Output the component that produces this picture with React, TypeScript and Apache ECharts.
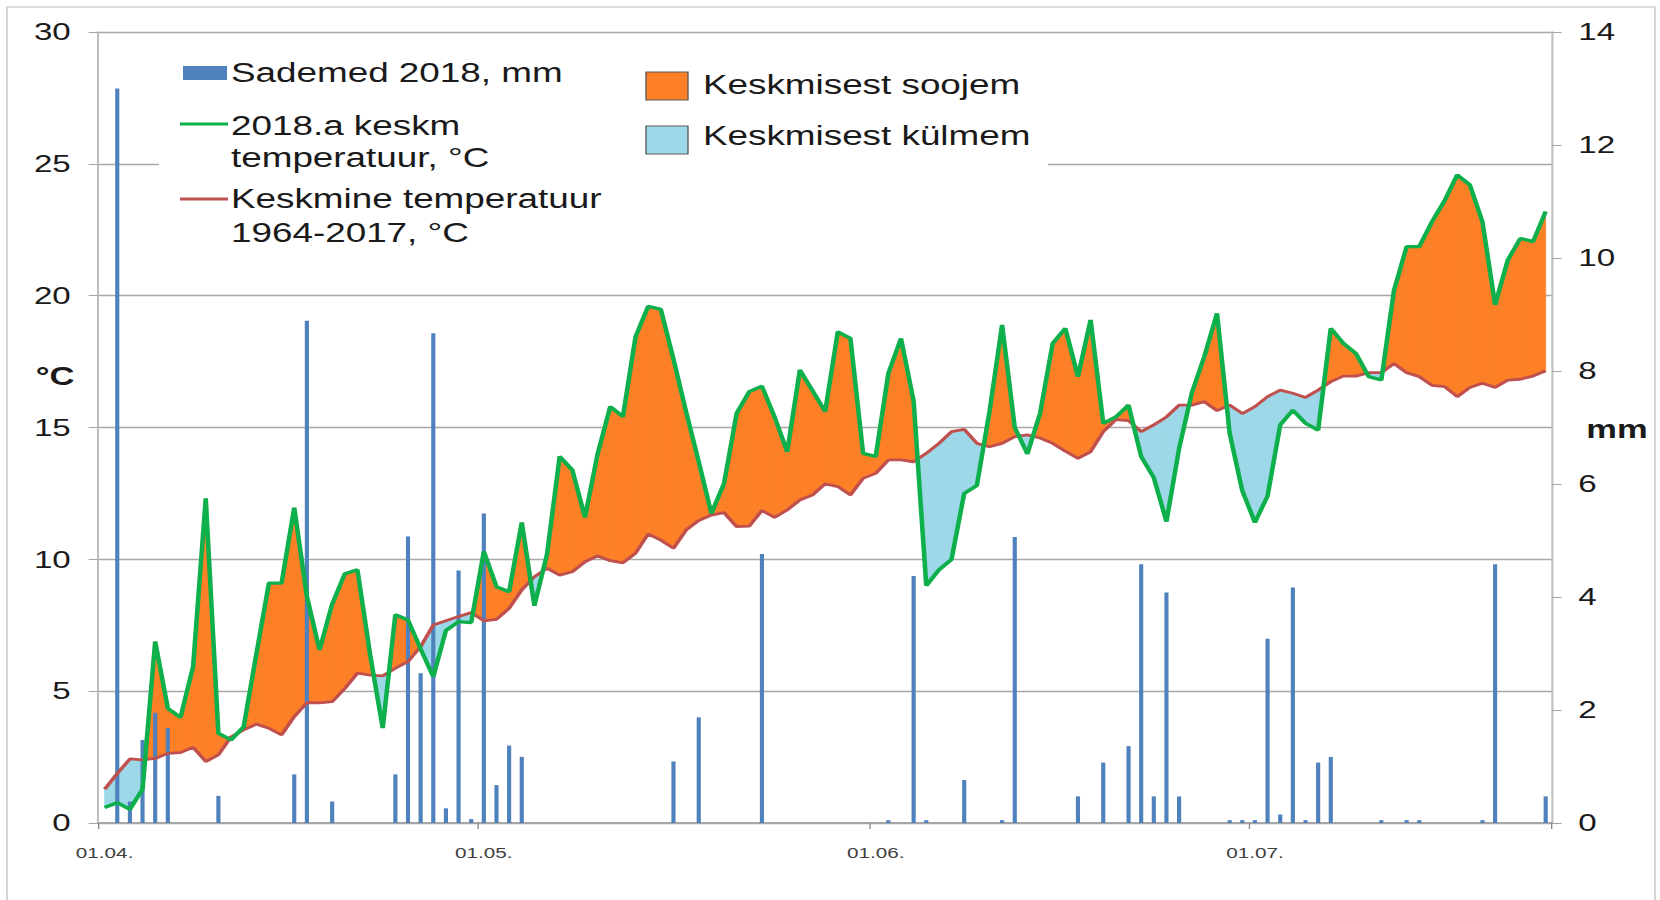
import React, { useEffect, useRef } from "react";
import * as echarts from "echarts";

// ---- data ----
const monthDays: [number, number][] = [[4, 30], [5, 31], [6, 30], [7, 31]];
const DAY_COUNT = 115;

const temp2018 = [
  0.59, 0.77, 0.52, 1.28, 6.88, 4.35, 4.0, 5.93, 12.31, 3.4,
  3.15, 3.65, 6.4, 9.1, 9.1, 11.96, 8.6, 6.56, 8.3, 9.45,
  9.6, 6.4, 3.6, 7.9, 7.7, 6.6, 5.55, 7.3, 7.64, 7.6,
  10.3, 8.96, 8.77, 11.4, 8.24, 10.2, 13.9, 13.39, 11.59, 14.0,
  15.79, 15.41, 18.44, 19.6, 19.48, 17.6, 15.6, 13.7, 11.74, 12.88,
  15.54, 16.36, 16.57, 15.4, 14.08, 17.18, 16.4, 15.6, 18.63, 18.38,
  14.02, 13.9, 17.05, 18.38, 16.0, 9.0, 9.6, 10.0, 12.5, 12.8,
  15.6, 18.89, 15.0, 14.0, 15.54, 18.19, 18.76, 16.93, 19.08, 15.16,
  15.4, 15.85, 13.9, 13.1, 11.43, 14.2, 16.3, 17.7, 19.33, 14.78,
  12.6, 11.4, 12.4, 15.1, 15.66, 15.16, 14.9, 18.76, 18.19, 17.8,
  16.93, 16.8, 20.2, 21.86, 21.86, 22.8, 23.6, 24.58, 24.2, 22.8,
  19.65, 21.35, 22.17, 22.05, 23.19,
];

const tempAvg = [
  1.28, 1.88, 2.43, 2.39, 2.45, 2.64, 2.67, 2.87, 2.33, 2.58,
  3.27, 3.53, 3.75, 3.59, 3.34, 4.03, 4.56, 4.56, 4.6, 5.1,
  5.68, 5.61, 5.58, 5.87, 6.12, 6.69, 7.51, 7.67, 7.83, 7.98,
  7.67, 7.72, 8.14, 8.84, 9.34, 9.66, 9.4, 9.53, 9.91, 10.13,
  9.95, 9.87, 10.23, 10.96, 10.73, 10.42, 11.11, 11.47, 11.68, 11.77,
  11.24, 11.26, 11.85, 11.59, 11.87, 12.25, 12.44, 12.86, 12.76, 12.44,
  13.07, 13.26, 13.77, 13.77, 13.7, 14.02, 14.4, 14.84, 14.93, 14.4,
  14.27, 14.4, 14.65, 14.72, 14.6, 14.4, 14.1, 13.83, 14.08, 14.84,
  15.3, 15.26, 14.84, 15.1, 15.4, 15.85, 15.85, 15.98, 15.64, 15.85,
  15.53, 15.79, 16.17, 16.42, 16.3, 16.14, 16.42, 16.74, 16.95, 16.95,
  17.08, 17.08, 17.43, 17.08, 16.93, 16.6, 16.55, 16.17, 16.52, 16.68,
  16.52, 16.8, 16.83, 16.95, 17.15,
];

const precip = [
  0, 13.0, 0.38, 1.47, 1.95, 1.68, 0, 0, 0, 0.48,
  0, 0, 0, 0, 0, 0.86, 8.89, 0, 0.38, 0,
  0, 0, 0, 0.86, 5.07, 2.65, 8.67, 0.26, 4.47, 0.07,
  5.48, 0.67, 1.37, 1.17, 0, 0, 0, 0, 0, 0,
  0, 0, 0, 0, 0, 1.09, 0, 1.87, 0, 0,
  0, 0, 4.76, 0, 0, 0, 0, 0, 0, 0,
  0, 0, 0.05, 0, 4.37, 0.05, 0, 0, 0.76, 0,
  0, 0.05, 5.06, 0, 0, 0, 0, 0.47, 0, 1.07,
  0, 1.36, 4.58, 0.47, 4.08, 0.47, 0, 0, 0, 0.05,
  0.05, 0.05, 3.26, 0.15, 4.17, 0.05, 1.07, 1.17, 0, 0,
  0, 0.05, 0, 0.05, 0.05, 0, 0, 0, 0, 0.05,
  4.58, 0, 0, 0, 0.47,
];

const seriesNames = {
  precip: "Sademed 2018, mm",
  temp: "2018.a keskm temperatuur, °C",
  avg: "Keskmine temperatuur 1964-2017, °C",
  warm: "Keskmisest soojem",
  cold: "Keskmisest külmem",
};

function buildDates(): string[] {
  const out: string[] = [];
  for (const [m, days] of monthDays) {
    for (let d = 1; d <= days && out.length < DAY_COUNT; d++) {
      out.push(`${String(d).padStart(2, "0")}.${String(m).padStart(2, "0")}.`);
    }
  }
  return out;
}
const dates = buildDates();

// ---- layout ----
const W = 1203;
const H = 900;
const S = 1660 / W; // horizontal stretch of the original picture
const FONT = '"Liberation Sans", Arial, sans-serif';
const WARM = "#FD7F26";
const COLD = "#9CD8E8";
const GREEN = "#0DB04B";
const RED = "#C0504D";
const BLUE = "#4F81BD";
const LEGEND_FONT = 26.7;

export default function App() {
  const ref = useRef<HTMLDivElement>(null);

  useEffect(() => {
    document.body.style.margin = "0";
    document.body.style.overflow = "hidden";
    const chart = echarts.init(ref.current!, undefined, { renderer: "svg" });

    const fillData = [];
    for (let i = 0; i < DAY_COUNT - 1; i++) {
      fillData.push([i, temp2018[i], tempAvg[i], temp2018[i + 1], tempAvg[i + 1]]);
    }

    const isMonthStart = (_: number, v: string) => v.startsWith("01.");

    const txt = (text: string, x: number, y: number, size = LEGEND_FONT, weight = "normal") => ({
      type: "text",
      z: 101,
      style: {
        text,
        x,
        y,
        fill: "#1a1a1a",
        fontSize: size,
        fontWeight: weight,
        fontFamily: FONT,
        align: "left",
        verticalAlign: "middle",
      },
    });

    const lx = 231 / S;
    const option: any = {
      animation: false,
      backgroundColor: "#ffffff",
      grid: { left: 98.3 / S, right: W - 1552 / S, top: 32, bottom: H - 823 },
      xAxis: {
        type: "category",
        data: dates,
        boundaryGap: true,
        axisLine: { lineStyle: { color: "#A6A6A6", width: 2 } },
        axisTick: {
          show: true,
          interval: isMonthStart,
          alignWithLabel: false,
          length: 6,
          lineStyle: { color: "#8c8c8c", width: 1 },
        },
        axisLabel: {
          interval: isMonthStart,
          fontSize: 15,
          color: "#404040",
          fontFamily: FONT,
          margin: 23,
        },
        splitLine: { show: false },
      },
      yAxis: [
        {
          type: "value",
          min: 0,
          max: 30,
          interval: 5,
          axisLine: { show: true, lineStyle: { color: "#BFBFBF", width: 1.5 } },
          axisTick: { show: true, inside: false, length: 7, lineStyle: { color: "#A6A6A6" } },
          axisLabel: { fontSize: 24, color: "#1a1a1a", fontFamily: FONT, margin: 20 },
          splitLine: { show: true, lineStyle: { color: "#A8A8A8", width: 1.3 } },
        },
        {
          type: "value",
          min: 0,
          max: 14,
          interval: 2,
          position: "right",
          axisLine: { show: true, lineStyle: { color: "#BFBFBF", width: 1.5 } },
          axisTick: { show: true, inside: false, length: 7, lineStyle: { color: "#A6A6A6" } },
          axisLabel: { fontSize: 24, color: "#1a1a1a", fontFamily: FONT, margin: 19 },
          splitLine: { show: false },
        },
      ],
      series: [
        {
          name: "fill",
          type: "custom",
          xAxisIndex: 0,
          yAxisIndex: 0,
          z: 1,
          silent: true,
          encode: { x: 0, y: [1, 2, 3, 4] },
          data: fillData,
          renderItem: (_params: any, api: any) => {
            const i = api.value(0);
            const g0 = api.value(1);
            const r0 = api.value(2);
            const g1 = api.value(3);
            const r1 = api.value(4);
            const Ag = api.coord([i, g0]);
            const Ar = api.coord([i, r0]);
            const Bg = api.coord([i + 1, g1]);
            const Br = api.coord([i + 1, r1]);
            const d0 = g0 - r0;
            const d1 = g1 - r1;
            const poly = (pts: number[][], color: string) => ({
              type: "polygon",
              shape: { points: pts },
              style: { fill: color, stroke: color, lineWidth: 0.6 },
            });
            const children: any[] = [];
            if (d0 * d1 >= 0) {
              const c = d0 + d1 >= 0 ? WARM : COLD;
              children.push(poly([Ag, Bg, Br, Ar], c));
            } else {
              const t = d0 / (d0 - d1);
              const C = [Ag[0] + t * (Bg[0] - Ag[0]), Ag[1] + t * (Bg[1] - Ag[1])];
              children.push(poly([Ag, C, Ar], d0 > 0 ? WARM : COLD));
              children.push(poly([C, Bg, Br], d1 > 0 ? WARM : COLD));
            }
            return { type: "group", children };
          },
        },
        {
          name: seriesNames.precip,
          type: "bar",
          xAxisIndex: 0,
          yAxisIndex: 1,
          z: 2,
          barWidth: 3,
          itemStyle: { color: BLUE },
          data: precip,
        },
        {
          name: seriesNames.avg,
          type: "line",
          yAxisIndex: 0,
          z: 3,
          symbol: "none",
          lineStyle: { color: RED, width: 2.8 },
          data: tempAvg,
        },
        {
          name: seriesNames.temp,
          type: "line",
          yAxisIndex: 0,
          z: 4,
          symbol: "none",
          lineStyle: { color: GREEN, width: 3.3 },
          data: temp2018,
        },
      ],
      graphic: [
        {
          type: "rect",
          z: 0,
          silent: true,
          shape: { x: 7 / S, y: 7, width: (1655 - 7) / S, height: 900 },
          style: { fill: "none", stroke: "#D4D4D4", lineWidth: 1.5 },
        },
        {
          type: "rect",
          z: 100,
          shape: { x: 159 / S, y: 40, width: (1048 - 159) / S, height: 222 },
          style: { fill: "#ffffff" },
        },
        {
          type: "rect",
          z: 101,
          shape: { x: 183 / S, y: 66, width: 44 / S, height: 14 },
          style: { fill: BLUE },
        },
        txt("Sademed 2018, mm", lx, 73),
        {
          type: "line",
          z: 101,
          shape: { x1: 180 / S, y1: 124, x2: 228 / S, y2: 124 },
          style: { stroke: GREEN, lineWidth: 3 },
        },
        txt("2018.a keskm", lx, 126),
        txt("temperatuur, °C", lx, 158),
        {
          type: "line",
          z: 101,
          shape: { x1: 180 / S, y1: 199, x2: 228 / S, y2: 199 },
          style: { stroke: RED, lineWidth: 2.8 },
        },
        txt("Keskmine temperatuur", lx, 199),
        txt("1964-2017, °C", lx, 233),
        {
          type: "rect",
          z: 101,
          shape: { x: 646 / S, y: 72, width: 42 / S, height: 28 },
          style: { fill: WARM, stroke: "#5a5a5a", lineWidth: 1 },
        },
        txt(seriesNames.warm, 703 / S, 85),
        {
          type: "rect",
          z: 101,
          shape: { x: 646 / S, y: 126, width: 42 / S, height: 28 },
          style: { fill: COLD, stroke: "#5a5a5a", lineWidth: 1 },
        },
        txt(seriesNames.cold, 703 / S, 136),
        {
          type: "text",
          z: 101,
          style: {
            text: "°C",
            x: 55 / S,
            y: 376,
            fill: "#1a1a1a",
            fontSize: 25,
            fontWeight: "bold",
            fontFamily: FONT,
            align: "center",
            verticalAlign: "middle",
          },
        },
        {
          type: "text",
          z: 101,
          style: {
            text: "mm",
            x: 1617 / S,
            y: 429,
            fill: "#1a1a1a",
            fontSize: 25,
            fontWeight: "bold",
            fontFamily: FONT,
            align: "center",
            verticalAlign: "middle",
          },
        },
      ],
    };

    chart.setOption(option);
    return () => chart.dispose();
  }, []);

  return (
    <div
      ref={ref}
      style={{
        position: "fixed",
        left: 0,
        top: 0,
        width: `${W}px`,
        height: `${H}px`,
        transform: `scaleX(${S})`,
        transformOrigin: "0 0",
        background: "#ffffff",
      }}
    />
  );
}
